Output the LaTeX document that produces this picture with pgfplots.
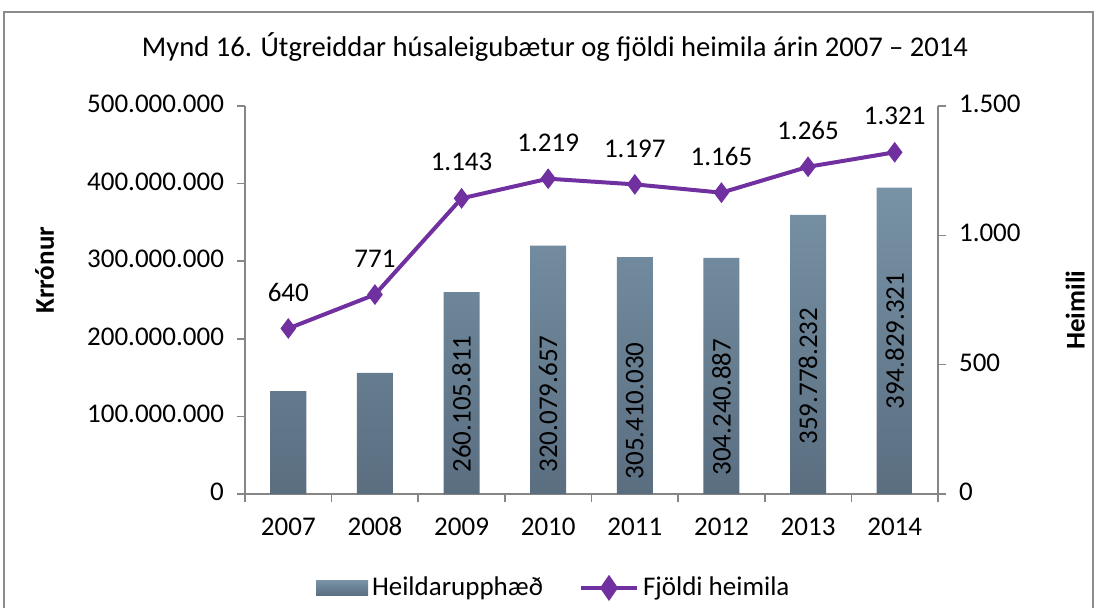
\documentclass[border=0pt]{standalone}
\usepackage{pgfplots}
\usepackage{pgfplotstable}
\pgfplotsset{compat=1.18}
\usepackage{fontspec}
\setmainfont{Carlito}
\definecolor{barTop}{HTML}{7892A6}
\definecolor{barBot}{HTML}{5A6E80}
\definecolor{linePurple}{HTML}{7030A0}
\definecolor{axisGray}{HTML}{868686}
\definecolor{frameGray}{HTML}{8C8C8C}

% upphaed i kronum
\pgfplotstableread{
x  kr
0  132700000
1  156000000
2  260105811
3  320079657
4  305410030
5  304240887
6  359778232
7  394829321
}\krtable

% merki inni i sulum (midja merkis)
\pgfplotstableread{
x  y          lab
2  116000000  260.105.811
3  116000000  320.079.657
4  107000000  305.410.030
5  112000000  304.240.887
6  152000000  359.778.232
7  197000000  394.829.321
}\labtable

\pgfplotstableread{
x  n
0  640
1  771
2  1143
3  1219
4  1197
5  1165
6  1265
7  1321
}\heimtable

\begin{document}
\begin{tikzpicture}
\path[use as bounding box] (0,0) rectangle (549.5pt,303.5pt);
\draw[frameGray, line width=0.8pt] (2pt,-2pt) -- (2pt,297.5pt) -- (546.5pt,297.5pt) -- (546.5pt,-2pt);
\node[font=\fontsize{14.3}{17}\selectfont] at (277.5pt,280pt) {Mynd 16. Útgreiddar húsaleigubætur og fjöldi heimila árin 2007 – 2014};

\pgfplotsset{
  every axis/.append style={
    scale only axis, width=346.5pt, height=194pt,
    at={(122.5pt,56.5pt)}, anchor=south west,
    xmin=-0.5, xmax=7.5,
    axis line style={axisGray, line width=0.8pt},
    tick style={axisGray, line width=0.8pt},
    tick label style={font=\fontsize{13.5}{16}\selectfont},
    typeset ticklabels with strut,
    /pgf/number format/.cd, fixed, 1000 sep={.}, min exponent for 1000 sep=3, assume math mode=true,
  },
}

\begin{axis}[
  axis x line*=bottom, axis y line*=left,
  ymin=0, ymax=500000000,
  ytick={0,100000000,...,500000000},
  scaled y ticks=false,
  xtick={0,...,7},
  xticklabels={2007,2008,2009,2010,2011,2012,2013,2014},
  major x tick style={draw=none},
  minor xtick={-0.5,0.5,...,7.5},
  minor tick length=4pt,
  major tick length=4pt,
  tick align=outside,
  xticklabel style={yshift=-2pt},
  yticklabel style={xshift=-3pt},
  ylabel={\textbf{Krrónur}},
  ylabel style={at={(axis description cs:-0.289,0.577)}, anchor=center, font=\fontsize{13.5}{16}\selectfont},
]
\addplot[ybar, bar width=18pt, draw=none, top color=barTop, bottom color=barBot] table[x=x, y=kr] {\krtable};
\addplot[draw=none, mark=none, point meta=explicit symbolic,
  nodes near coords,
  nodes near coords style={rotate=90, anchor=center, font=\fontsize{13.5}{16}\selectfont, text=black}]
  table[x=x, y=y, meta=lab] {\labtable};
\end{axis}

\begin{axis}[
  axis x line=none, axis y line*=right,
  ymin=0, ymax=1500,
  ytick={0,500,1000,1500},
  major tick length=4pt,
  tick align=outside,
  yticklabel style={xshift=3pt},
  ylabel={\textbf{Heimili}},
  ylabel style={at={(axis description cs:1.198,0.474)}, anchor=center, font=\fontsize{13.5}{16}\selectfont},
  legend columns=2,
  legend style={draw=none, at={(0.447,-0.242)}, anchor=center, font=\fontsize{13.5}{16}\selectfont,
    /tikz/every even column/.append style={column sep=16pt}},
]
\addlegendimage{legend image code/.code={\path[draw=none, top color=barTop, bottom color=barBot] (0pt,-3.8pt) rectangle (26pt,3.8pt);}}
\addlegendentry{Heildarupphæð}
\addplot[linePurple, line width=2pt, mark=diamond*, mark size=4.8pt,
  mark options={fill=linePurple, line width=0.5pt},
  legend image code/.code={\draw[linePurple, line width=2pt] (0pt,0pt) -- (28pt,0pt);
    \fill[linePurple] (14pt,0pt) +(0,4.8pt) -- +(3.3pt,0) -- +(0,-4.8pt) -- +(-3.3pt,0) -- cycle;},
  nodes near coords,
  nodes near coords style={anchor=south, yshift=10pt, text=black, font=\fontsize{13.5}{16}\selectfont}]
  table[x=x, y=n] {\heimtable};
\addlegendentry{Fjöldi heimila}
\end{axis}
\end{tikzpicture}
\end{document}
